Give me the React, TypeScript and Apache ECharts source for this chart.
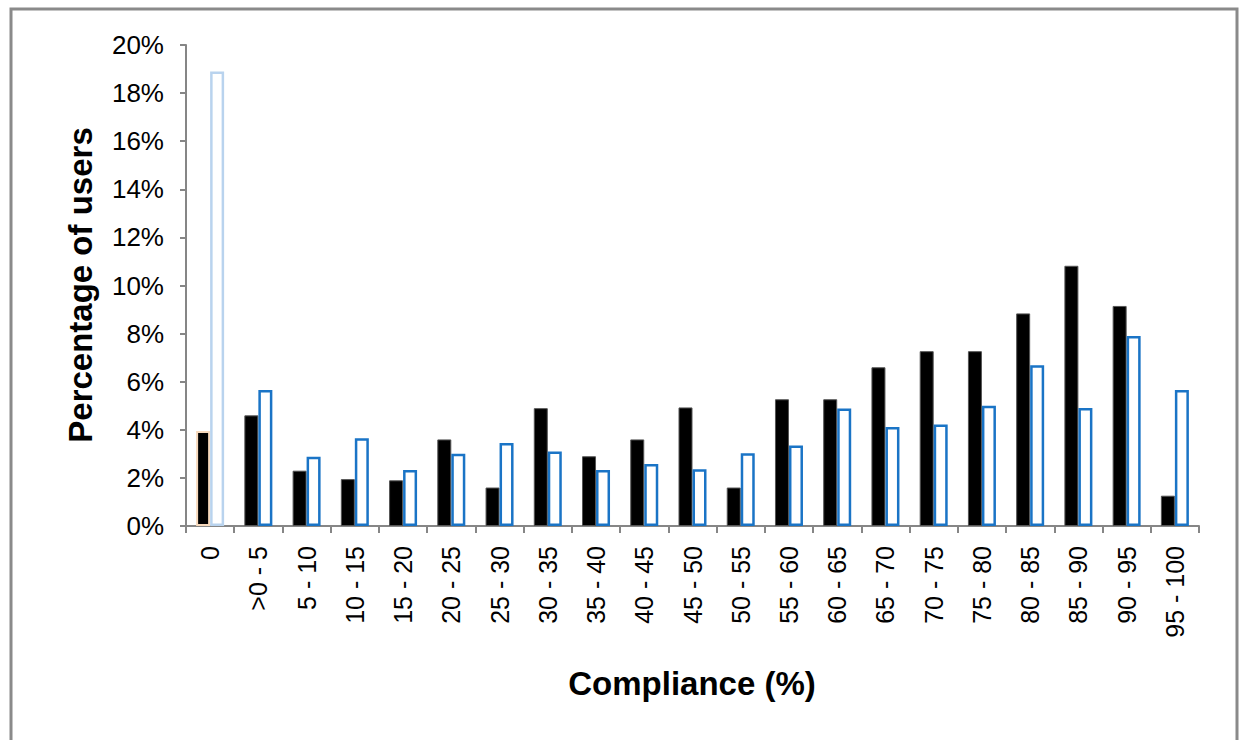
import React, { useEffect, useRef } from "react";
import * as echarts from "echarts";

const categories = [
  "0", ">0 - 5", "5 - 10", "10 - 15", "15 - 20", "20 - 25", "25 - 30", "30 - 35",
  "35 - 40", "40 - 45", "45 - 50", "50 - 55", "55 - 60", "60 - 65", "65 - 70",
  "70 - 75", "75 - 80", "80 - 85", "85 - 90", "90 - 95", "95 - 100",
];
const seriesBlack = [
  3.95, 4.6, 2.3, 1.95, 1.9, 3.6, 1.6, 4.9, 2.9, 3.6, 4.93, 1.6, 5.27, 5.27, 6.6,
  7.27, 7.27, 8.84, 10.82, 9.15, 1.26,
];
const seriesBlue = [
  18.9, 5.65, 2.88, 3.65, 2.33, 3.0, 3.45, 3.1, 2.33, 2.58, 2.36, 3.02, 3.35, 4.89,
  4.12, 4.22, 5.0, 6.68, 4.91, 7.9, 5.65,
];
const yTicks = { min: 0, max: 20, interval: 2 };

const FONT = "'Liberation Sans', Arial, sans-serif";

export default function App() {
  const ref = useRef<HTMLDivElement>(null);
  useEffect(() => {
    if (!ref.current) return;
    const chart = echarts.init(ref.current, undefined, { renderer: "svg" });
    const blackData = seriesBlack.map((v, i) =>
      i === 0
        ? { value: v, itemStyle: { color: "#000", borderColor: "#f7d9bc", borderWidth: 2 } }
        : v
    );
    const blueData = seriesBlue.map((v, i) =>
      i === 0
        ? { value: v, itemStyle: { color: "#fff", borderColor: "#b9d3ee", borderWidth: 2.5 } }
        : v
    );
    chart.setOption({
      animation: false,
      backgroundColor: "#fff",
      textStyle: { fontFamily: FONT },
      grid: { left: 186, right: 43, top: 45, bottom: 214, containLabel: false },
      graphic: [
        {
          type: "rect",
          z: -10,
          shape: { x: 11, y: 9, width: 1226, height: 780 },
          style: { fill: "none", stroke: "#8a8a8a", lineWidth: 3 },
        },
        {
          type: "text",
          x: 80,
          y: 285,
          rotation: Math.PI / 2,
          style: {
            text: "Percentage of users",
            font: `bold 33px ${FONT}`,
            fill: "#000",
            align: "center",
            verticalAlign: "middle",
          },
        },
        {
          type: "text",
          x: 692,
          y: 683,
          style: {
            text: "Compliance (%)",
            font: `bold 33px ${FONT}`,
            fill: "#000",
            align: "center",
            verticalAlign: "middle",
          },
        },
      ],
      xAxis: {
        type: "category",
        data: categories,
        axisLine: { show: true, lineStyle: { color: "#868686", width: 2 } },
        axisTick: { show: true, length: 7, lineStyle: { color: "#868686", width: 2 } },
        axisLabel: {
          rotate: 90,
          margin: 20,
          interval: 0,
          color: "#000",
          fontSize: 25,
          fontFamily: FONT,
        },
      },
      yAxis: {
        type: "value",
        min: yTicks.min,
        max: yTicks.max,
        interval: yTicks.interval,
        axisLine: { show: true, lineStyle: { color: "#868686", width: 2 } },
        axisTick: { show: true, length: 6, lineStyle: { color: "#868686", width: 2 } },
        splitLine: { show: false },
        axisLabel: {
          formatter: "{value}%",
          margin: 22,
          color: "#000",
          fontSize: 26,
          fontFamily: FONT,
        },
      },
      series: [
        {
          type: "bar",
          data: blackData,
          barWidth: 14,
          barGap: "0%",
          itemStyle: { color: "#000", borderColor: "#555", borderWidth: 1 },
        },
        {
          type: "bar",
          data: blueData,
          barWidth: 14,
          barGap: "0%",
          itemStyle: { color: "#fff", borderColor: "#1a74c6", borderWidth: 2.5 },
        },
      ],
    });
    return () => chart.dispose();
  }, []);
  return (
    <div
      ref={ref}
      style={{ position: "absolute", left: 0, top: 0, width: 1242, height: 740 }}
    />
  );
}
